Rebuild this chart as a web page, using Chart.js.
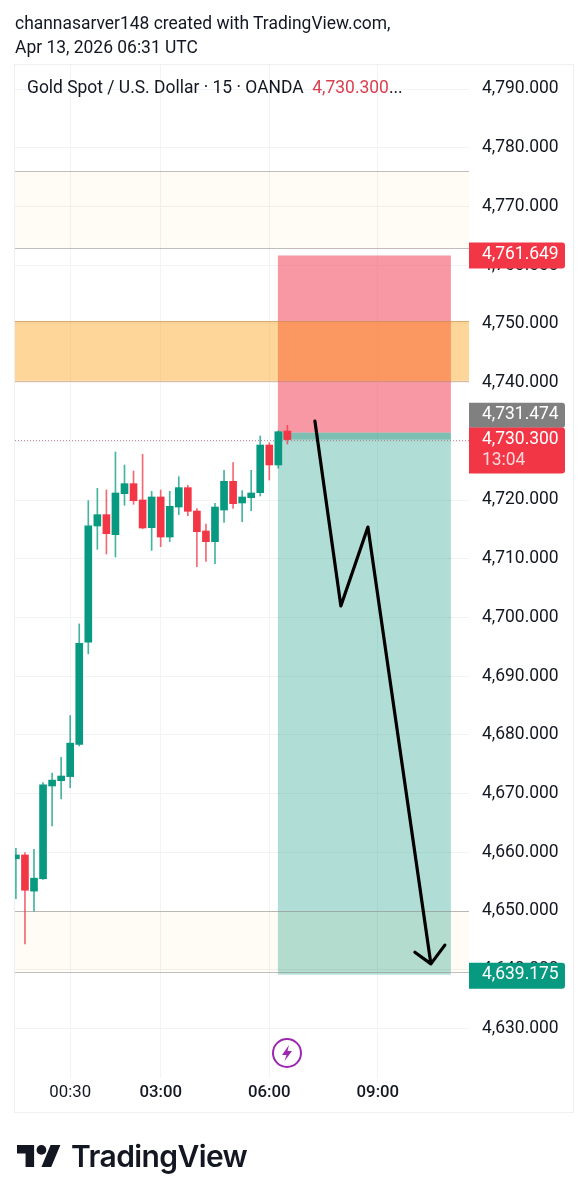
<!DOCTYPE html>
<html>
<head>
<meta charset="utf-8">
<title>Gold Spot / U.S. Dollar</title>
<script src="https://cdn.jsdelivr.net/npm/chart.js@4/dist/chart.umd.min.js"></script>
<style>
    html, body { margin: 0; padding: 0; background: #fff; }
    body { position: relative; width: 588px; height: 1200px; overflow: hidden; font-family: Roboto, sans-serif; color: #131722; }
    canvas { position: absolute; left: 0; top: 0; }
    .txt { position: absolute; white-space: nowrap; font-size: 17.45px; line-height: 24px; }
    .red { color: #d8404f; }
    .brand { position: absolute; left: 71px; top: 1137px; font: 600 30px/38px Inter, sans-serif; letter-spacing: -0.6px; color: #131722; }
</style>
</head>
<body>
<canvas id="goldChart" width="588" height="1200"></canvas>
<div class="txt" style="left:15px;top:11px">channasarver148 created with TradingView.com,</div>
<div class="txt" style="left:15px;top:35px">Apr 13, 2026 06:31 UTC</div>
<div class="txt" style="left:27px;top:75px">Gold Spot / U.S. Dollar · 15 · OANDA&nbsp; <span class="red">4,730.300</span>...</div>
<svg style="position:absolute;left:271px;top:1037px" width="32" height="32" viewBox="0 0 32 32">
    <circle cx="16" cy="16" r="14" fill="#fff" stroke="#9c27b0" stroke-width="2"/>
    <path d="M18 8 L11 18 H15.5 L13.5 24 L21 14 H16.5 Z" fill="#9c27b0"/>
</svg>
<svg style="position:absolute;left:17px;top:1145px" width="44" height="22" viewBox="0 4 36 18">
    <path d="M14 22H7V11H0V4h14v18zM28 22h-8l7.5-18h8L28 22z" fill="#131722"/>
    <circle cx="20" cy="8" r="4" fill="#131722"/>
</svg>
<div class="brand">TradingView</div>
<script>
// 15분봉 OHLC (23:00 ~ 06:30)
const candleOpen = [4658.9, 4659.55, 4653.4, 4655.5, 4671.3, 4672.2, 4672.9, 4678.4, 4695.8, 4715.58, 4717.51, 4714.1, 4721.08, 4722.79, 4720.01, 4715.29, 4720.52, 4713.7, 4718.81, 4722.11, 4718.13, 4714.73, 4712.91, 4718.3, 4723.19, 4719.5, 4720.4, 4721.25, 4729.37, 4725.97, 4731.75];
const candleHigh = [4660.7, 4659.94, 4660.5, 4671.9, 4673.5, 4676.2, 4683.3, 4698.9, 4719.9, 4721.99, 4721.71, 4728.18, 4725.97, 4724.94, 4727.78, 4721.48, 4721.71, 4721.48, 4723.98, 4722.5, 4718.53, 4715.92, 4719.44, 4725.06, 4726.36, 4721.6, 4725.06, 4730.91, 4729.77, 4731.8, 4732.72];
const candleLow = [4652.1, 4644.4, 4650, 4655.4, 4664.5, 4669.1, 4671, 4678.1, 4693.8, 4711.6, 4710.81, 4710.3, 4719.1, 4719.27, 4715.12, 4711.43, 4712.06, 4712.91, 4717.51, 4717.34, 4708.65, 4709.56, 4709.16, 4716.2, 4718.59, 4716.32, 4718.19, 4720.69, 4723.41, 4725.4, 4729.54];
const candleClose = [4659.55, 4653.54, 4655.6, 4671.5, 4672.3, 4673, 4678.6, 4695.6, 4715.6, 4717.51, 4714.27, 4721.2, 4722.79, 4719.89, 4715.24, 4720.52, 4713.7, 4718.93, 4722.11, 4718.08, 4714.61, 4712.91, 4718.81, 4723.19, 4719.38, 4720.52, 4721.2, 4729.37, 4725.97, 4731.64, 4730.3];

// 축 눈금
const priceTicks = [4790, 4780, 4770, 4760, 4750, 4740, 4730, 4720, 4710, 4700, 4690, 4680, 4670, 4660, 4650, 4640, 4630];
const timeTickBars = [6, 16, 28, 40];
const timeTickLabels = ['00:30', '03:00', '06:00', '09:00'];
const timeTickBold = [false, true, true, true];

// 공급/수요 구간 (상단, 하단)
const zoneTops = [4776, 4750.5, 4650];
const zoneBottoms = [4763, 4740.3, 4639.7];

// 숏 포지션
const positionBars = [28.95, 48.07];
const entryPrice = 4731.474;
const stopPrice = 4761.649;
const targetPrice = 4639.175;
const lastPrice = 4730.3;
const countdown = '13:04';

// 손으로 그린 화살표
const arrowBars = [33.04, 35.91, 38.9, 45.86, 44.09, 45.86, 47.4];
const arrowPrices = [4733.46, 4701.96, 4715.4, 4641, 4643, 4641, 4644.2];

const UP = '#089981';
const DOWN = '#f23645';
const FONT = 'Roboto, sans-serif';
const candleColor = (i, alpha) => {
    const rgb = candleClose[i] >= candleOpen[i] ? '8, 153, 129' : '242, 54, 69';
    return `rgba(${rgb}, ${alpha})`;
};
const money = v => v.toLocaleString('en-US', { minimumFractionDigits: 3, maximumFractionDigits: 3 });

// 구간, 포지션 박스 (캔들 아래)
const backdrop = {
    id: 'backdrop',
    beforeDatasetsDraw(chart) {
        const { ctx, chartArea, scales: { x, y } } = chart;
        const left = x.getPixelForValue(positionBars[0]);
        const width = x.getPixelForValue(positionBars[1]) - left;
        const entryY = y.getPixelForValue(entryPrice);
        const lastPx = y.getPixelForValue(lastPrice);
        ctx.save();
        ctx.fillStyle = 'rgba(244, 50, 75, 0.5)';
        ctx.fillRect(left, y.getPixelForValue(stopPrice), width, entryY - y.getPixelForValue(stopPrice));
        ctx.fillStyle = 'rgba(8, 153, 129, 0.32)';
        ctx.fillRect(left, entryY, width, y.getPixelForValue(targetPrice) - entryY);
        // 진입가~현재가 구간은 더 진하게
        ctx.fillStyle = 'rgba(8, 120, 100, 0.3)';
        ctx.fillRect(left, entryY, width, lastPx - entryY);

        zoneTops.forEach((top, i) => {
            const y1 = y.getPixelForValue(top);
            const y2 = y.getPixelForValue(zoneBottoms[i]);
            ctx.fillStyle = i === 1 ? 'rgba(255, 152, 0, 0.4)' : 'rgba(255, 152, 0, 0.04)';
            ctx.fillRect(chartArea.left, y1, chartArea.width, y2 - y1);
            ctx.strokeStyle = i === 1 ? 'rgba(190, 140, 90, 0.6)' : 'rgba(150, 145, 140, 0.6)';
            ctx.lineWidth = 1;
            ctx.beginPath();
            [y1, y2].forEach(py => {
                ctx.moveTo(chartArea.left, Math.round(py) + 0.5);
                ctx.lineTo(chartArea.right, Math.round(py) + 0.5);
            });
            ctx.stroke();
        });

        // 현재가 점선
        const lastY = Math.round(lastPx) + 0.5;
        ctx.strokeStyle = 'rgba(190, 110, 125, 0.8)';
        ctx.setLineDash([1, 2]);
        ctx.beginPath();
        ctx.moveTo(chartArea.left, lastY);
        ctx.lineTo(chartArea.right, lastY);
        ctx.stroke();
        ctx.restore();
    }
};

// 오른쪽 가격 태그
const priceTags = {
    id: 'priceTags',
    afterDraw(chart) {
        const { ctx, chartArea, scales: { y } } = chart;
        const tag = (top, height, color, lines) => {
            ctx.fillStyle = color;
            ctx.beginPath();
            ctx.roundRect(chartArea.right, top, 96, height, [0, 3, 3, 0]);
            ctx.fill();
            ctx.font = `17.45px ${FONT}`;
            ctx.textBaseline = 'middle';
            ctx.textAlign = 'left';
            lines.forEach((line, i) => {
                ctx.fillStyle = i === 0 ? '#fff' : 'rgba(255, 255, 255, 0.8)';
                ctx.fillText(line, chartArea.right + 13, top + 12 + i * 21);
            });
        };
        ctx.save();
        tag(y.getPixelForValue(stopPrice) - 13, 26, DOWN, [money(stopPrice)]);
        tag(y.getPixelForValue(targetPrice) - 12, 26, UP, [money(targetPrice)]);
        tag(y.getPixelForValue(entryPrice) - 30, 25, '#808080', [money(entryPrice)]);
        tag(y.getPixelForValue(lastPrice) - 12, 46, DOWN, [money(lastPrice), countdown]);
        ctx.restore();
    }
};

const ctx = document.getElementById('goldChart');

new Chart(ctx, {
    type: 'bar',
    data: {
        datasets: [
            {
                type: 'line',
                data: arrowBars.map((x, i) => ({ x: x, y: arrowPrices[i] })),
                borderColor: '#000',
                borderWidth: 3.2,
                borderCapStyle: 'round',
                borderJoinStyle: 'round',
                pointRadius: 0,
                tension: 0,
                order: 0
            },
            {
                data: candleOpen.map((open, i) => ({ x: i, y: [open, candleClose[i]] })),
                backgroundColor: candleOpen.map((_, i) => candleColor(i, 1)),
                barThickness: 7,
                grouped: false,
                order: 1
            },
            {
                data: candleHigh.map((high, i) => ({ x: i, y: [candleLow[i], high] })),
                backgroundColor: candleHigh.map((_, i) => candleColor(i, 0.75)),
                barThickness: 1,
                grouped: false,
                order: 2
            }
        ]
    },
    options: {
        responsive: false,
        animation: false,
        devicePixelRatio: 1,
        layout: { padding: { left: 15, top: 65, right: 15, bottom: 88 } },
        plugins: {
            legend: { display: false },
            tooltip: { enabled: false }
        },
        scales: {
            x: {
                type: 'linear',
                offset: false,
                min: -0.1,
                max: 50.07,
                afterBuildTicks: axis => { axis.ticks = timeTickBars.map(v => ({ value: v })); },
                afterFit: axis => { axis.height = 34; },
                grid: { offset: false, color: '#f2f3f5', drawTicks: false },
                border: { display: false },
                ticks: {
                    autoSkip: false,
                    maxRotation: 0,
                    padding: 5,
                    color: '#131722',
                    font: c => ({ family: FONT, size: 16.8, weight: timeTickBold[c.index] ? '500' : '400' }),
                    callback: value => timeTickLabels[timeTickBars.indexOf(value)]
                }
            },
            y: {
                position: 'right',
                min: 4621.57,
                max: 4794.09,
                afterBuildTicks: axis => { axis.ticks = priceTicks.map(v => ({ value: v })); },
                afterFit: axis => { axis.width = 104; },
                grid: { color: '#f2f3f5', drawTicks: false },
                border: { display: false },
                ticks: {
                    autoSkip: false,
                    crossAlign: 'near',
                    padding: 13,
                    color: '#131722',
                    font: { family: FONT, size: 17.45 },
                    callback: value => money(value)
                }
            }
        }
    },
    plugins: [
        backdrop,
        priceTags,
        {
            // 패널 테두리
            id: 'panelFrame',
            afterDraw(chart) {
                const { ctx } = chart;
                ctx.save();
                ctx.strokeStyle = '#eeeff1';
                ctx.strokeRect(14.5, 64.5, 559, 1048);
                ctx.restore();
            }
        }
    ]
});
</script>
</body>
</html>
